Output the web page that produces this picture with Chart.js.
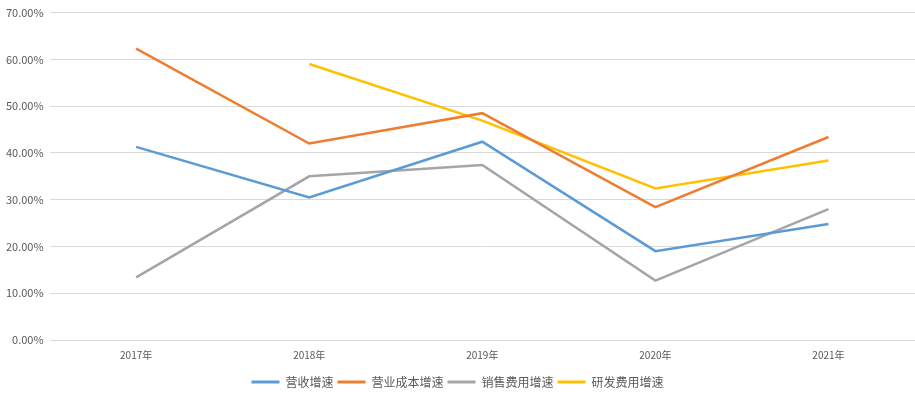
<!DOCTYPE html>
<html>
<head>
<meta charset="utf-8">
<script src="https://cdn.jsdelivr.net/npm/chart.js@4.4.1/dist/chart.umd.min.js"></script>
<style>
  html, body { margin: 0; padding: 0; background: #fff; }
  #wrap { width: 915px; height: 395px; }
</style>
</head>
<body>
<div id="wrap"><canvas id="growthChart"></canvas></div>
<script>
// categories and series values (percent)
const years = ['2017年', '2018年', '2019年', '2020年', '2021年'];
const revenueGrowth = [41.3, 30.5, 42.4, 19.0, 24.8];
const costGrowth = [62.3, 42.0, 48.5, 28.4, 43.4];
const salesExpGrowth = [13.4, 35.0, 37.4, 12.7, 28.0];
const rdExpGrowth = [null, 59.0, 46.9, 32.4, 38.4];
const seriesNames = ['营收增速', '营业成本增速', '销售费用增速', '研发费用增速'];

const colors = ['#5B9BD5', '#ED7D31', '#A5A5A5', '#FFC000'];
const font = '"Noto Sans CJK SC", "Noto Sans", sans-serif';

var ctx = document.getElementById('growthChart').getContext('2d');
var myChart = new Chart(ctx, {
    type: 'line',
    data: {
        labels: years,
        datasets: [revenueGrowth, costGrowth, salesExpGrowth, rdExpGrowth].map((d, i) => ({
            label: seriesNames[i],
            data: d,
            borderColor: colors[i],
            backgroundColor: colors[i],
            borderWidth: 2.5,
            pointRadius: 0,
            tension: 0,
            fill: false,
        }))
    },
    options: {
        responsive: true,
        maintainAspectRatio: false,
        animation: false,
        layout: { padding: { top: 4, right: 0, left: 0, bottom: -3 } },
        plugins: {
            legend: {
                position: 'bottom',
                labels: {
                    boxWidth: 28,
                    boxHeight: 3,
                    padding: 4,
                    color: '#595959',
                    font: { family: font, size: 12 },
                    generateLabels: function (chart) {
                        return Chart.defaults.plugins.legend.labels.generateLabels(chart).map(l => {
                            l.fillStyle = l.strokeStyle;
                            l.lineWidth = 0;
                            return l;
                        });
                    }
                }
            },
            tooltip: { enabled: false },
        },
        scales: {
            x: {
                offset: true,
                grid: { display: false, drawTicks: false },
                border: { display: false },
                ticks: {
                    color: '#595959',
                    padding: 9,
                    font: { family: font, size: 10 },
                    maxRotation: 0,
                },
                afterFit: function (axis) { axis.height += 2; }
            },
            y: {
                min: 0,
                max: 70,
                border: { display: false },
                grid: { color: '#D9D9D9', drawTicks: false, lineWidth: 1 },
                ticks: {
                    stepSize: 10,
                    padding: 6,
                    color: '#595959',
                    font: { family: font, size: 11 },
                    callback: function (v) { return v.toFixed(2) + '%'; }
                },
            },
        },
    }
});
</script>
</body>
</html>
